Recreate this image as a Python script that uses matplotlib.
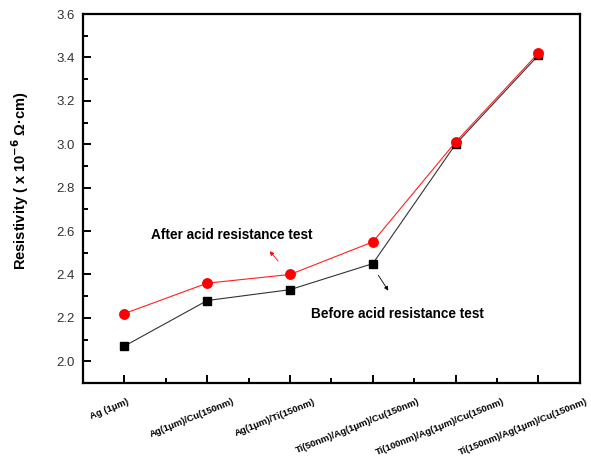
import matplotlib

matplotlib.use("Agg")
import matplotlib.pyplot as plt
import matplotlib.transforms as mtransforms
from matplotlib.ticker import MultipleLocator

samples = [
    "Ag (1μm)",
    "Ag(1μm)/Cu(150nm)",
    "Ag(1μm)/Ti(150nm)",
    "Ti(50nm)/Ag(1μm)/Cu(150nm)",
    "Ti(100nm)/Ag(1μm)/Cu(150nm)",
    "Ti(150nm)/Ag(1μm)/Cu(150nm)",
]
before_test = [2.07, 2.28, 2.33, 2.45, 3.00, 3.41]
after_test = [2.22, 2.36, 2.40, 2.55, 3.01, 3.42]

plt.rcParams.update({
    "font.family": ["Liberation Sans", "DejaVu Sans"],
    "axes.linewidth": 1.6,
})

fig = plt.figure(figsize=(5.91, 4.68), dpi=100)
ax = fig.add_axes([0.1404, 0.1816, 0.8406, 0.7884])

x = list(range(len(samples)))
ax.plot(x, before_test, color="#333333", lw=0.8, marker="s", ms=5.2,
        mfc="black", mec="black", zorder=3)
ax.plot(x, after_test, color="#ff2020", lw=0.8, marker="o", ms=6.8,
        mfc="red", mec="red", zorder=4)

ax.set_xlim(-0.5, 5.5)
ax.set_ylim(1.9, 3.6)
ax.yaxis.set_major_locator(MultipleLocator(0.2))
ax.yaxis.set_minor_locator(MultipleLocator(0.1))
ax.set_xticks(x)
ax.xaxis.set_minor_locator(MultipleLocator(0.5))
ax.tick_params(which="both", direction="in", width=1.4, top=False, right=False)
ax.tick_params(which="major", length=6)
ax.tick_params(which="minor", length=3.5)
ax.tick_params(axis="y", labelsize=9.5, labelcolor="#333333", pad=6)
ax.set_yticks([2.0, 2.2, 2.4, 2.6, 2.8, 3.0, 3.2, 3.4, 3.6])
ax.set_yticklabels([f"{v:.1f}" for v in ax.get_yticks()])

ax.set_xticklabels(samples, rotation=22, ha="center", fontsize=6.8,
                   fontweight="bold")
ax.tick_params(axis="x", pad=10)
shift = mtransforms.ScaledTranslation(-15 / 100, 0, fig.dpi_scale_trans)
for lbl in ax.get_xticklabels():
    lbl.set_transform(lbl.get_transform() + shift)

ax.set_ylabel("Resistivity ( x 10$^{\\mathbf{-6}}$ Ω·cm)", fontsize=10.5,
              fontweight="bold")
ax.yaxis.set_label_coords(-0.105, 0.55)

# labels for the two curves with small pointer arrows
ax.annotate("", xy=(1.733, 2.517), xytext=(1.878, 2.453),
            arrowprops=dict(arrowstyle="-|>", color="red", lw=0.6,
                            mutation_scale=6))
ax.text(1.30, 2.582, "After acid resistance test", ha="center", va="center",
        fontsize=9.8, fontweight="bold")
ax.annotate("", xy=(3.206, 2.315), xytext=(3.049, 2.407),
            arrowprops=dict(arrowstyle="-|>", color="black", lw=0.6,
                            mutation_scale=6))
ax.text(3.30, 2.218, "Before acid resistance test", ha="center", va="center",
        fontsize=9.8, fontweight="bold")

fig.savefig("out.png", dpi=100)
